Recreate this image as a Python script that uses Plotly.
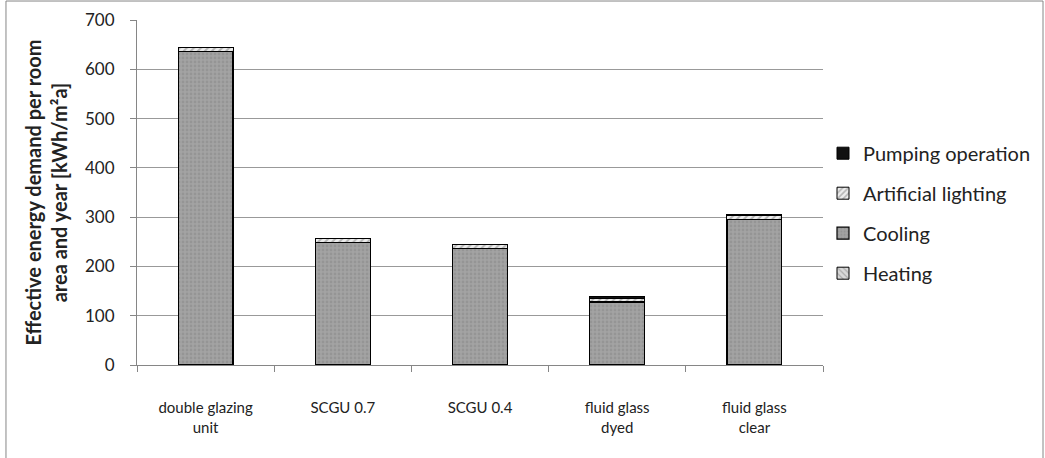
import plotly.graph_objects as go

categories = ["double glazing<br>unit", "SCGU 0.7", "SCGU 0.4", "fluid glass<br>dyed", "fluid glass<br>clear"]
heating = [1, 1, 1, 1, 1]
cooling = [636, 248, 236, 127, 295]
lighting = [8, 8, 8, 7, 7]
pumping = [0, 0, 0, 3, 3]

fig = go.Figure()

fig.add_bar(x=categories, y=heating, name="Heating", legendgroup="h", legendrank=4,
            marker=dict(color="#d9d9d9", line=dict(color="black", width=1),
                        pattern=dict(shape="\\", fgcolor="#808080", size=5, solidity=0.3)))
fig.add_bar(x=categories, y=cooling, name="Cooling", legendgroup="c", legendrank=3,
            marker=dict(color="#a3a3a3", line=dict(color="black", width=1.2),
                        pattern=dict(shape=".", fgcolor="#888888", bgcolor="#a3a3a3", size=4, solidity=0.4)))
fig.add_bar(x=categories, y=lighting, name="Artificial lighting", legendgroup="l", legendrank=2,
            marker=dict(color="#e6e6e6", line=dict(color="black", width=1),
                        pattern=dict(shape="/", fgcolor="#7f7f7f", bgcolor="#ededed", size=5, solidity=0.4)))
fig.add_bar(x=categories, y=pumping, name="Pumping operation", legendgroup="p", legendrank=1,
            marker=dict(color="#111111", line=dict(color="black", width=1)))

fig.update_layout(
    barmode="stack",
    bargap=0.6,
    width=1045, height=458,
    margin=dict(l=137, r=222, t=20, b=93, autoexpand=False),
    paper_bgcolor="white", plot_bgcolor="white",
    font=dict(family="Lato, Liberation Sans, sans-serif", size=16, color="#222222"),
    legend=dict(x=1.0, y=0.44, xanchor="left", yanchor="middle", traceorder="grouped",
                font=dict(size=20), itemwidth=30, tracegroupgap=11),
    showlegend=True,
)
fig.update_xaxes(
    automargin=False,
    showline=True, linecolor="#868686", linewidth=1,
    ticks="outside", tickson="boundaries", ticklen=6, tickcolor="#868686",
    showgrid=False, ticklabelstandoff=29, tickfont=dict(size=15),
)
fig.update_yaxes(
    automargin=False,
    range=[0, 700], dtick=100,
    showline=True, linecolor="#868686", linewidth=1,
    ticks="outside", ticklen=6, tickcolor="#868686",
    showgrid=True, gridcolor="#999999", gridwidth=1,
    ticklabelstandoff=12, tickfont=dict(size=17),
    title=dict(text="<b>Effective energy demand per room<br>area and year [kWh/m²a]</b>",
               font=dict(size=20), standoff=12),
)
fig.add_shape(type="rect", xref="paper", yref="paper",
              x0=-0.191, x1=1.3207, y0=-0.3, y1=1.055,
              line=dict(color="#868686", width=1), layer="below")

fig.write_html("out.html", config={"displayModeBar": False},
               post_script="document.body.style.margin='0';")
